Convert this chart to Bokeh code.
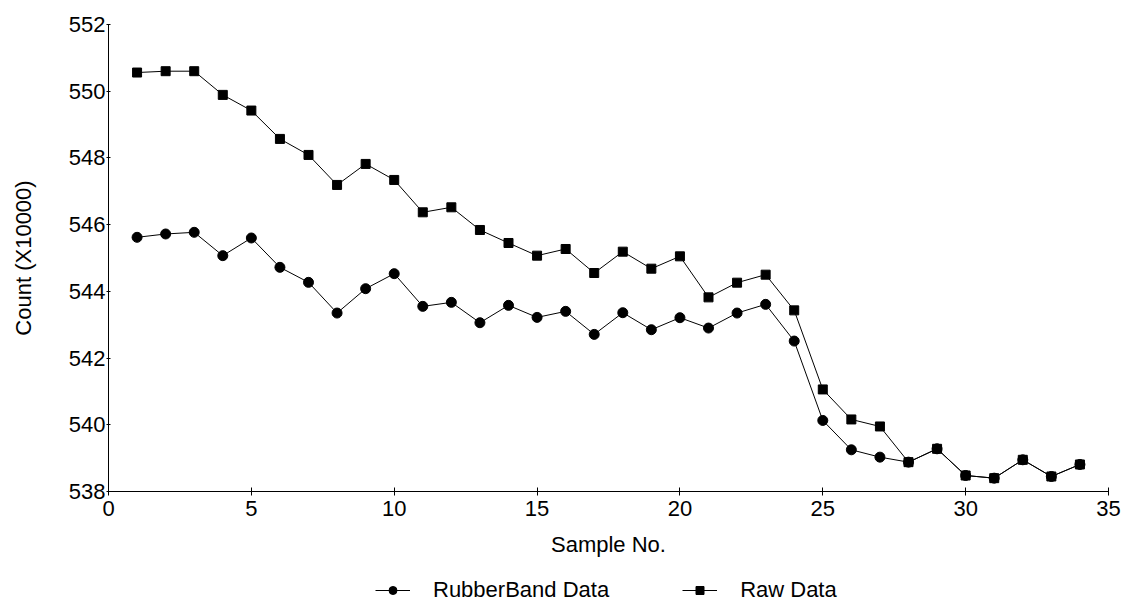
from bokeh.plotting import figure
from bokeh.layouts import column
from bokeh.models import Range1d, FixedTicker, Legend, LegendItem
from bokeh.embed import file_html
from bokeh.resources import INLINE

# ---- data ----
sample_no = list(range(1, 35))
rubberband = [545.62, 545.72, 545.77, 545.07, 545.60, 544.72, 544.27, 543.35, 544.08, 544.53,
              543.55, 543.67, 543.06, 543.58, 543.22, 543.40, 542.71, 543.36, 542.85, 543.21,
              542.90, 543.35, 543.61, 542.51, 540.13, 539.25, 539.03, 538.88, 539.28, 538.48,
              538.40, 538.95, 538.45, 538.81]
raw = [550.56, 550.60, 550.60, 549.89, 549.42, 548.57, 548.09, 547.19, 547.82, 547.34,
       546.37, 546.52, 545.84, 545.45, 545.07, 545.27, 544.55, 545.19, 544.68, 545.05,
       543.82, 544.26, 544.50, 543.43, 541.06, 540.16, 539.95, 538.88, 539.28, 538.48,
       538.40, 538.95, 538.45, 538.81]
series_names = ["RubberBand Data", "Raw Data"]
x_ticks = [0, 5, 10, 15, 20, 25, 30, 35]
y_ticks = [538, 540, 542, 544, 546, 548, 550, 552]

FONT = "Liberation Sans"
FS = "22px"

p = figure(frame_width=1000, frame_height=467,
           min_border_left=108, min_border_right=15, min_border_top=24, min_border_bottom=79,
           x_range=Range1d(0, 35), y_range=Range1d(538, 552),
           output_backend="svg", toolbar_location=None)
p.outline_line_color = None
p.xgrid.visible = False
p.ygrid.visible = False
p.background_fill_color = "white"
p.border_fill_color = "white"

for ax in (p.xaxis[0], p.yaxis[0]):
    ax.axis_line_color = "black"
    ax.axis_line_width = 1
    ax.major_tick_line_color = "black"
    ax.minor_tick_line_color = None
    ax.major_label_text_font = FONT
    ax.major_label_text_font_size = FS
    ax.major_label_text_color = "black"
    ax.axis_label_text_font = FONT
    ax.axis_label_text_font_size = FS
    ax.axis_label_text_font_style = "normal"
    ax.axis_label_text_color = "black"

p.xaxis.ticker = FixedTicker(ticks=x_ticks)
p.yaxis.ticker = FixedTicker(ticks=y_ticks)
p.xaxis.axis_label = "Sample No."
p.yaxis.axis_label = "Count (X10000)"
p.xaxis.major_tick_in = 4
p.xaxis.major_tick_out = 4
p.xaxis.major_label_standoff = 5
p.xaxis.axis_label_standoff = 13
p.yaxis.major_tick_in = 2
p.yaxis.major_tick_out = 2
p.yaxis.major_label_standoff = 1
p.yaxis.axis_label_standoff = 30

p.line(sample_no, raw, line_color="black", line_width=1)
p.scatter(sample_no, raw, marker="square", size=9, fill_color="black", line_color="black")
p.line(sample_no, rubberband, line_color="black", line_width=1)
p.scatter(sample_no, rubberband, marker="circle", size=10, fill_color="black", line_color="black")

# ---- legend strip below the chart (its proxy series lie outside its 0..1 view) ----
q = figure(width=1123, height=33, min_border=0,
           x_range=Range1d(0, 1), y_range=Range1d(0, 1),
           output_backend="svg", toolbar_location=None)
q.axis.visible = False
q.xgrid.visible = False
q.ygrid.visible = False
q.outline_line_color = None
q.background_fill_color = "white"
q.border_fill_color = "white"

k_rb_l = q.line(sample_no, rubberband, line_color="black", line_width=1)
k_rb_s = q.scatter(sample_no, rubberband, marker="circle", size=10, fill_color="black", line_color="black")
k_raw_l = q.line(sample_no, raw, line_color="black", line_width=1)
k_raw_s = q.scatter(sample_no, raw, marker="square", size=9, fill_color="black", line_color="black")

legend = Legend(items=[LegendItem(label=series_names[0], renderers=[k_rb_l, k_rb_s]),
                       LegendItem(label=series_names[1], renderers=[k_raw_l, k_raw_s])],
                location=(267, 0), orientation="horizontal",
                glyph_width=35, glyph_height=20, label_standoff=23, spacing=73,
                padding=0, margin=0, border_line_color=None, background_fill_alpha=0,
                label_text_font=FONT, label_text_font_size=FS, label_text_color="black")
q.add_layout(legend, "center")

layout = column(p, q, spacing=0)
open("out.html", "w").write(file_html(layout, INLINE))
